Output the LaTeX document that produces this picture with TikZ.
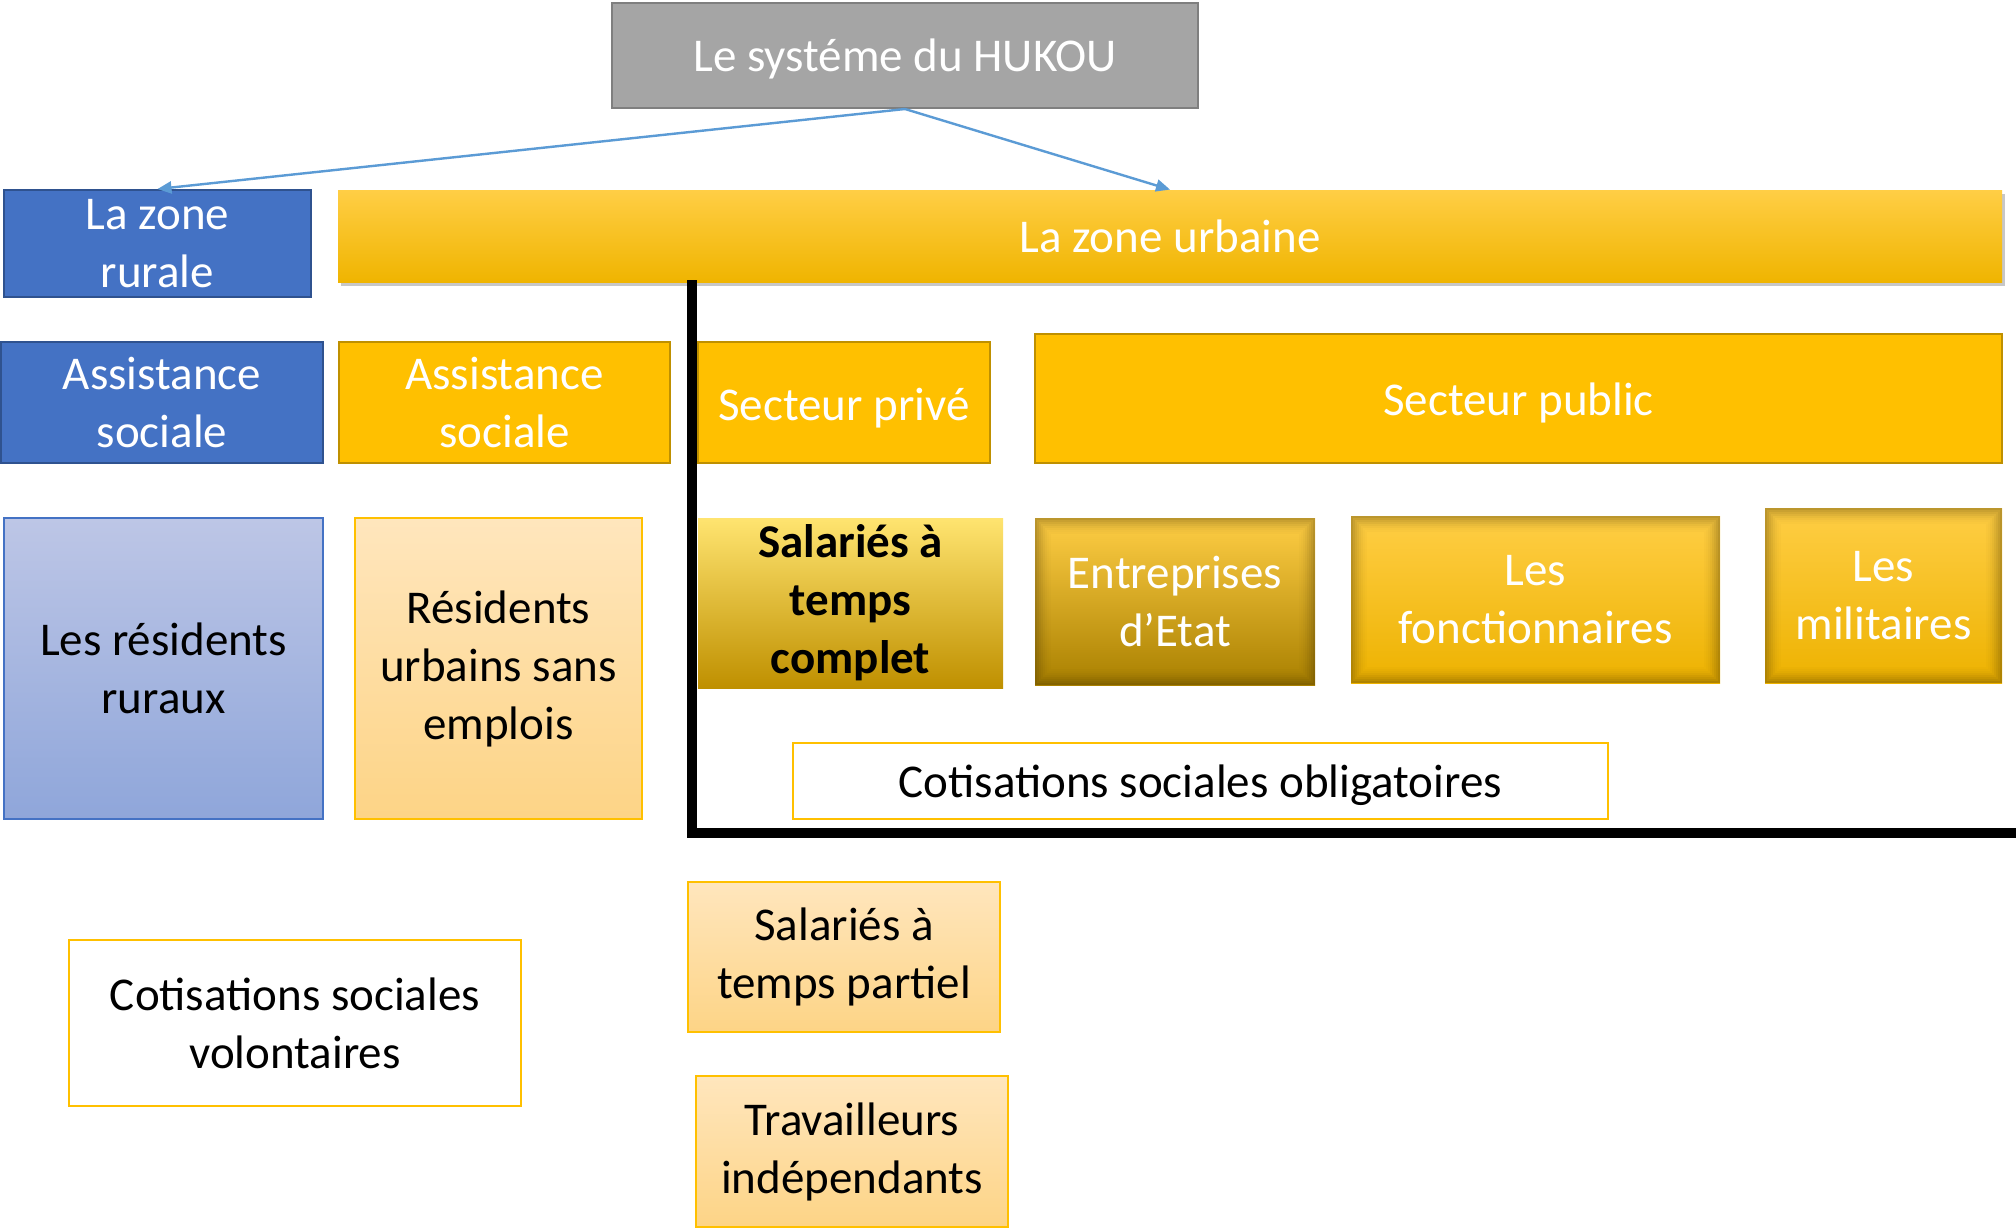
\documentclass[tikz,border=0pt]{standalone}
\usepackage{fontspec}
\setmainfont{Carlito}
\usetikzlibrary{arrows.meta,shadows}
\definecolor{hgray}{HTML}{A5A5A5}
\definecolor{hgrayb}{HTML}{7F7F7F}
\definecolor{cblue}{HTML}{4472C4}
\definecolor{cblueb}{HTML}{2F528F}
\definecolor{gold}{HTML}{FFC000}
\definecolor{goldb}{HTML}{BF9000}
\definecolor{arrowblue}{HTML}{5B9BD5}
\definecolor{lbtop}{HTML}{BDC6E6}
\definecolor{lbbot}{HTML}{8FA6DA}
\definecolor{lotop}{HTML}{FFE6BD}
\definecolor{lobot}{HTML}{FDD486}
\definecolor{gtop}{HTML}{FFCE45}
\definecolor{gbot}{HTML}{EDB200}
\definecolor{gdark}{HTML}{A98000}
\definecolor{ylight}{HTML}{FFE470}
\definecolor{vig}{HTML}{3A2A00}
\newcommand{\lowertext}[2]{\raisebox{-#1}[\height][\depth]{#2}}
\begin{document}
\begin{tikzpicture}[x=0.5pt,y=-0.5pt,
  font=\fontsize{23.5}{29}\selectfont,
  base/.style={rectangle, inner sep=0pt, align=center},
  pos/.style n args={4}{at={({(#1+#2)/2},{(#3+#4)/2})},
     minimum width={(#2-#1)*0.5pt}, minimum height={(#4-#3)*0.5pt}},
  graybox/.style={base, fill=hgray, draw=hgrayb, line width=1pt, text=white},
  bluebox/.style={base, fill=cblue, draw=cblueb, line width=1pt, text=white},
  goldbox/.style={base, fill=gold, draw=goldb, line width=1pt, text=white},
  lightblue/.style={base, top color=lbtop, bottom color=lbbot, draw=cblue, line width=0.6pt, text=black},
  lightorange/.style={base, top color=lotop, bottom color=lobot, draw=gold, line width=0.6pt, text=black},
  whitebox/.style={base, fill=white, draw=gold, line width=1.4pt, text=black},
  urbanbar/.style={base, top color=gtop, middle color=gold, bottom color=gold!94!black, text=white,
     drop shadow={shadow xshift=1.5pt, shadow yshift=-2pt, opacity=0.22, fill=black}},
  fullbox/.style={base, top color=ylight, middle color=gold, bottom color=goldb, text=black, font=\fontsize{23.5}{29}\selectfont\bfseries},
  vignette/.style={path picture={
     \foreach \d/\o in {0.5/0.34,1.5/0.27,2.5/0.21,3.5/0.16,4.5/0.11,5.5/0.07,6.5/0.04,7.5/0.02}{
       \draw[vig, opacity=\o, line width=1pt]
         ([xshift=\d pt,yshift=-\d pt]path picture bounding box.north west) rectangle
         ([xshift=-\d pt,yshift=\d pt]path picture bounding box.south east);}}},
  pubbox/.style={base, top color=gtop, middle color=gold, bottom color=gbot, text=white, vignette},
  darkpubbox/.style={base, top color=gtop, middle color=gold, bottom color=gdark, text=white, vignette},
  link/.style={draw=arrowblue, line width=1.2pt, -{Triangle[length=7pt,width=6pt]}},
  frameline/.style={draw=black, line width=5pt}
]
\fill[white] (0,0) rectangle (2016,1227);
\useasboundingbox (0,0) rectangle (2016,1227);

\node[graybox, pos={612}{1198}{3}{108}] (hukou) {\lowertext{1.5pt}{Le systéme du HUKOU}};
\node[bluebox, pos={4}{311}{190}{297}] (rurale) {La zone\\rurale};
\node[urbanbar, pos={338}{2002}{190}{282}] (urbaine) {La zone urbaine};

\coordinate (ftop) at (692,280);
\coordinate (fcorner) at (692,833);
\coordinate (fend) at (2016,833);
\draw[frameline] (ftop) -- (fcorner) -- (fend);

\node[bluebox, pos={1}{323}{342}{463}] (assistB) {Assistance\\sociale};
\node[goldbox, pos={339}{670}{342}{463}] (assistO) {Assistance\\sociale};
\node[goldbox, pos={698}{990}{342}{463}] (prive) {\lowertext{3pt}{Secteur privé}};
\node[goldbox, pos={1035}{2002}{334}{463}] (public) {\lowertext{2pt}{Secteur public}};

\node[lightblue, pos={4}{323}{518}{819}] (ruraux) {Les résidents\\ruraux};
\node[lightorange, pos={355}{642}{518}{819}] (urbains) {Résidents\\urbains sans\\emplois};
\node[fullbox, pos={698}{1003}{518}{688}] (salTC) {Salariés à\\temps\\complet};
\node[darkpubbox, pos={1035}{1315}{518}{685}] (entrep) {Entreprises\\d’Etat};
\node[pubbox, pos={1351}{1720}{516}{683}] (fonct) {Les\\fonctionnaires};
\node[pubbox, pos={1765}{2002}{508}{683}] (milit) {Les\\militaires};

\node[whitebox, pos={793}{1608}{743}{819}] (cotisO) {\lowertext{2pt}{Cotisations sociales obligatoires}};
\node[lightorange, pos={688}{1000}{882}{1032}] (salTP) {Salariés à\\temps partiel};
\node[lightorange, pos={696}{1008}{1076}{1227}] (trav) {Travailleurs\\indépendants};
\node[whitebox, pos={69}{521}{940}{1106}] (cotisV) {Cotisations sociales\\volontaires};

\draw[link] (hukou.south) -- (rurale.north);
\draw[link] (hukou.south) -- (urbaine.north);
\end{tikzpicture}
\end{document}
